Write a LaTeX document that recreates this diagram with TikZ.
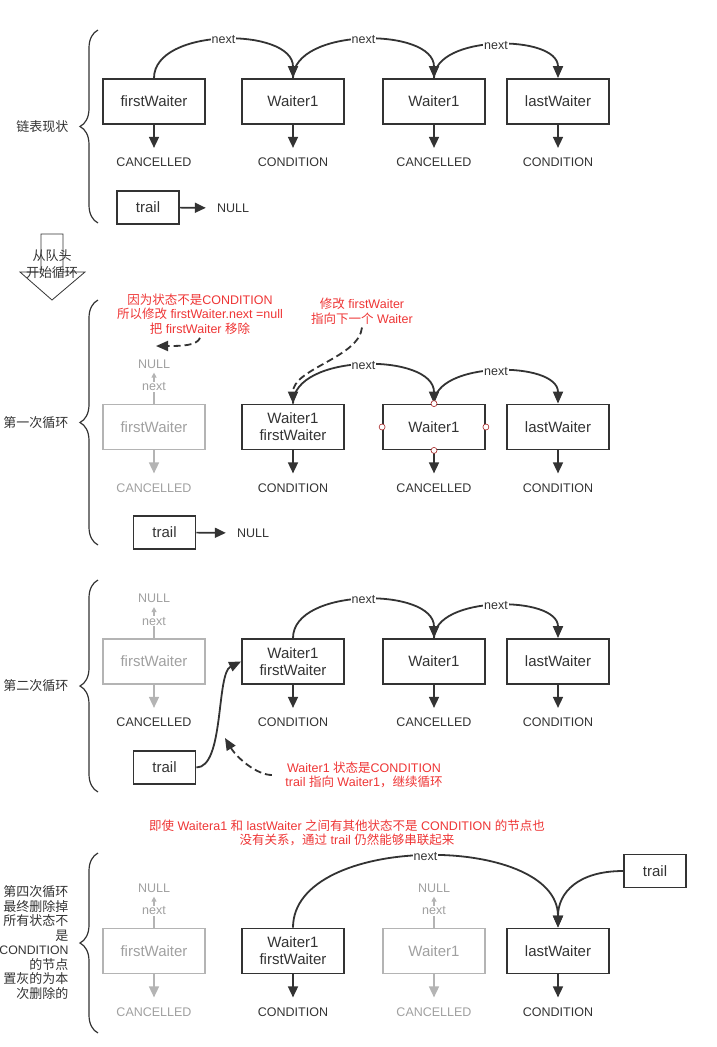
\documentclass[tikz,border=0pt]{standalone}
\usepackage{fontspec}
\setmainfont{Liberation Sans}
\newfontfamily\cjk{Noto Sans CJK SC}
\newcommand{\zh}[1]{{\cjk #1}}
\usetikzlibrary{arrows.meta,positioning,decorations.pathreplacing}

\definecolor{ink}{HTML}{333333}
\definecolor{fade}{HTML}{B4B4B4}
\definecolor{fadetext}{HTML}{A0A0A0}
\definecolor{note}{HTML}{EE3535}

\tikzset{
    waiter/.style={draw=ink, line width=1.8pt, minimum width=102pt, minimum height=45pt, inner sep=0pt, align=center, text=ink, font=\fontsize{15}{17}\selectfont},
    removed/.style={waiter, draw=fade, text=fadetext},
    trailbox/.style={waiter, minimum width=62pt, minimum height=33pt},
    status/.style={text=ink, inner sep=1pt, font=\fontsize{12.5}{14}\selectfont},
    nextlbl/.style={fill=white, inner sep=1pt, text=ink, font=\fontsize{12.5}{14}\selectfont},
    link/.style={draw=ink, line width=1.8pt, -{Triangle[length=12pt,width=10pt]}},
    down/.style={draw=ink, line width=1.6pt, -{Triangle[length=11pt,width=10pt]}, shorten >=9pt},
    fadeup/.style={draw=fade, line width=1.3pt, -{Triangle[length=5pt,width=5pt]}, shorten >=3pt},
    hint/.style={draw=ink, line width=1.8pt, dash pattern=on 7pt off 4pt, -{Triangle[length=12pt,width=10pt]}},
    notetext/.style={text=note, align=center, font=\fontsize{12.5}{14.5}\selectfont},
    sidebrace/.style={draw=ink, line width=1.2pt, decorate, decoration={brace, amplitude=18pt}},
    sidelbl/.style={text=ink, align=right, anchor=east, font=\fontsize{13}{14.5}\selectfont},
    handle/.style={circle, draw=note!70!black, fill=white, line width=0.6pt, inner sep=0pt, minimum size=6pt},
}

\begin{document}
\begin{tikzpicture}[x=1pt, y=-1pt]
    \useasboundingbox (0, 0) rectangle (717, 1047);

    % 链表现状
    \draw[sidebrace] (98, 223) -- (98, 30);
    \node[sidelbl] (l1) at (72, 126.5) {\zh{链表现状}};
    \foreach \x/\t [count=\i] in {154/firstWaiter, 293/Waiter1, 434/Waiter1, 558/lastWaiter}
        \node[waiter] (a\i) at (\x, 101.5) {\t};
    \foreach \i/\s in {1/CANCELLED, 2/CONDITION, 3/CANCELLED, 4/CONDITION} {
        \node[status, below=32pt of a\i] (as\i) {\s};
        \draw[down] (a\i) -- (as\i);
    }
    \foreach \i/\j/\h in {1/2/51, 2/3/51, 3/4/44}
        \draw[link] (a\i.north) .. controls +(0, -\h) and +(0, -\h) .. (a\j.north) node[nextlbl, pos=.5] (an\i) {next};
    \node[trailbox] (trail1) at (148, 207.5) {trail};
    \node[status] (null1) at (233, 208) {NULL};
    \draw[down, shorten >=10pt] (trail1) -- (null1);

    \draw[ink, line width=0.8pt, fill=white] (41, 234) -- (63, 234) -- (63, 272) -- (85, 272) -- (52, 300) -- (20, 272) -- (41, 272) -- cycle;
    \node[sidelbl, anchor=center, align=center, font=\fontsize{13}{17}\selectfont] (go) at (52, 264.5) {\zh{从队头}\\\zh{开始循环}};

    % 第一次循环
    \draw[sidebrace] (98, 545) -- (98, 300);
    \node[sidelbl] (l2) at (72, 422.5) {\zh{第一次循环}};
    \node[removed] (b1) at (154, 427) {firstWaiter};
    \node[waiter] (b2) at (293, 427) {Waiter1\\firstWaiter};
    \node[waiter] (b3) at (434, 427) {Waiter1};
    \node[waiter] (b4) at (558, 427) {lastWaiter};
    \node[status, text=fadetext, above=34pt of b1] (b1null) {NULL};
    \draw[fadeup] (b1) -- node[nextlbl, text=fadetext] (b1next) {next} (b1null);
    \foreach \i/\s/\tc/\ac in {1/CANCELLED/fadetext/fade, 2/CONDITION/ink/ink, 3/CANCELLED/ink/ink, 4/CONDITION/ink/ink} {
        \node[status, text=\tc, below=32pt of b\i] (bs\i) {\s};
        \draw[down, draw=\ac] (b\i) -- (bs\i);
    }
    \draw[link] (b2.north) .. controls +(0, -51) and +(0, -51) .. (b3.north) node[nextlbl, pos=.5] (bn2) {next};
    \draw[link] (b3.north) .. controls +(0, -43) and +(0, -43) .. (b4.north) node[nextlbl, pos=.5] (bn3) {next};
    \foreach \a in {north, south, east, west}
        \node[handle] (h\a) at (b3.\a) {};
    \node[notetext] (n1) at (200, 314) {\zh{因为状态不是}CONDITION\\\zh{所以修改} firstWaiter.next =null\\\zh{把} firstWaiter \zh{移除}};
    \coordinate (n1tip) at (156, 346);
    \draw[hint] (n1.south) .. controls +(-3, 8) and +(25, 0) .. (n1tip);
    \node[notetext] (n2) at (362, 311) {\zh{修改} firstWaiter\\\zh{指向下一个} Waiter};
    \draw[hint] (n2.south) .. controls +(-3, 30) and +(0, -35) .. (b2.north);
    \node[trailbox] (trail2) at (164.5, 532.5) {trail};
    \node[status] (null2) at (253, 533) {NULL};
    \draw[down, shorten >=10pt] (trail2) -- (null2);

    % 第二次循环
    \draw[sidebrace] (98, 792) -- (98, 580);
    \node[sidelbl] (l3) at (72, 686) {\zh{第二次循环}};
    \node[removed] (c1) at (154, 661.5) {firstWaiter};
    \node[waiter] (c2) at (293, 661.5) {Waiter1\\firstWaiter};
    \node[waiter] (c3) at (434, 661.5) {Waiter1};
    \node[waiter] (c4) at (558, 661.5) {lastWaiter};
    \node[status, text=fadetext, above=34pt of c1] (c1null) {NULL};
    \draw[fadeup] (c1) -- node[nextlbl, text=fadetext] (c1next) {next} (c1null);
    \foreach \i/\s/\tc/\ac in {1/CANCELLED/ink/fade, 2/CONDITION/ink/ink, 3/CANCELLED/ink/ink, 4/CONDITION/ink/ink} {
        \node[status, text=\tc, below=32pt of c\i] (cs\i) {\s};
        \draw[down, draw=\ac] (c\i) -- (cs\i);
    }
    \draw[link] (c2.north) .. controls +(0, -51) and +(0, -51) .. (c3.north) node[nextlbl, pos=.5] (cn2) {next};
    \draw[link] (c3.north) .. controls +(0, -43) and +(0, -43) .. (c4.north) node[nextlbl, pos=.5] (cn3) {next};
    \node[trailbox] (trail3) at (164.5, 767.5) {trail};
    \draw[link] (trail3.east) .. controls +(28, 0) and +(-25, 12) .. (c2.west);
    \node[notetext] (n3) at (364, 775) {Waiter1 \zh{状态是}CONDITION\\trail \zh{指向} Waiter1\zh{，继续循环}};
    \coordinate (n3tip) at (225, 738);
    \draw[hint, shorten <=10pt] (n3.west) .. controls +(-25, 0) and +(12, 20) .. (n3tip);

    % 第四次循环
    \node[notetext] (n4) at (347, 833) {\zh{即使} Waitera1 \zh{和} lastWaiter \zh{之间有其他状态不是} CONDITION \zh{的节点也}\\\zh{没有关系，通过} trail \zh{仍然能够串联起来}};
    \draw[sidebrace] (98, 1033) -- (98, 853);
    \node[sidelbl] (l4) at (72, 942.5) {\zh{第四次循环}\\\zh{最终删除掉}\\\zh{所有状态不}\\\zh{是}\\{\fontsize{12.3}{14.5}\selectfont CONDITION}\\\zh{的节点}\\\zh{置灰的为本}\\\zh{次删除的}};
    \node[removed] (d1) at (154, 951) {firstWaiter};
    \node[waiter] (d2) at (293, 951) {Waiter1\\firstWaiter};
    \node[removed] (d3) at (434, 951) {Waiter1};
    \node[waiter] (d4) at (558, 951) {lastWaiter};
    \foreach \i in {1, 3} {
        \node[status, text=fadetext, above=34pt of d\i] (d\i null) {NULL};
        \draw[fadeup] (d\i) -- node[nextlbl, text=fadetext] (d\i next) {next} (d\i null);
    }
    \foreach \i/\s/\tc/\ac in {1/CANCELLED/fadetext/fade, 2/CONDITION/ink/ink, 3/CANCELLED/fadetext/fade, 4/CONDITION/ink/ink} {
        \node[status, text=\tc, below=32pt of d\i] (ds\i) {\s};
        \draw[down, draw=\ac] (d\i) -- (ds\i);
    }
    \draw[link] (d2.north) .. controls +(0, -95) and +(0, -95) .. (d4.north) node[nextlbl, pos=.5] (dn2) {next};
    \node[trailbox] (trail4) at (655, 871) {trail};
    \draw[link] (trail4.west) .. controls +(-45, 0) and +(0, -35) .. (d4.north);
\end{tikzpicture}
\end{document}
